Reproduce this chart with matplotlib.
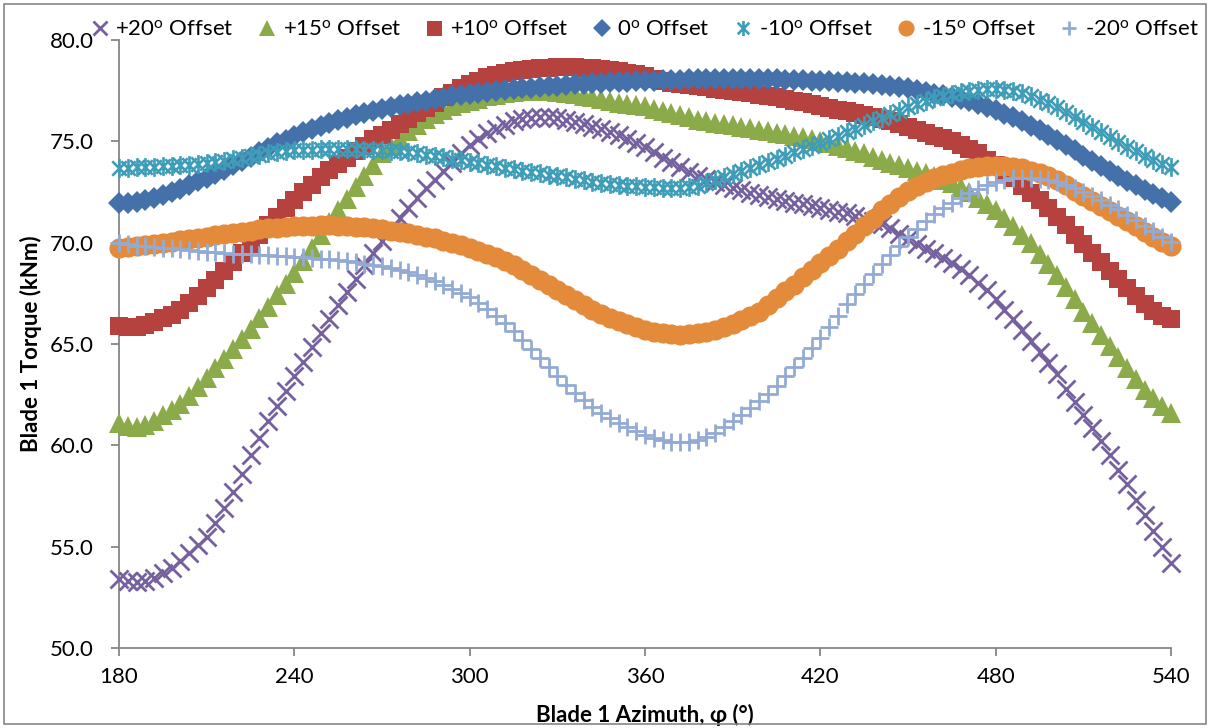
import numpy as np
import matplotlib
matplotlib.use("Agg")
import matplotlib.pyplot as plt
from matplotlib.path import Path
from matplotlib.patches import Rectangle

plt.rcParams['font.family'] = ['Lato', 'DejaVu Sans']
plt.rcParams['mathtext.default'] = 'regular'

# Blade azimuth samples (deg), one every 3 degrees over half a revolution + 180
azimuth = np.arange(180, 541, 3)

torque_p20 = [
    53.4, 53.3, 53.25, 53.3, 53.45, 53.7, 53.95, 54.3, 54.7, 55.1,
    55.5, 56.15, 56.9, 57.7, 58.6, 59.5, 60.35, 61.2, 61.95, 62.7,
    63.4, 64.1, 64.85, 65.55, 66.25, 66.9, 67.55, 68.2, 68.9, 69.5,
    70.1, 70.65, 71.2, 71.7, 72.2, 72.7, 73.1, 73.55, 73.95, 74.4,
    74.8, 75.1, 75.4, 75.6, 75.8, 76.0, 76.1, 76.15, 76.2, 76.2,
    76.15, 76.05, 75.95, 75.85, 75.7, 75.6, 75.45, 75.3, 75.1, 74.9,
    74.7, 74.45, 74.2, 74.0, 73.75, 73.5, 73.3, 73.15, 73.0, 72.85,
    72.7, 72.6, 72.45, 72.35, 72.25, 72.15, 72.05, 71.95, 71.9, 71.8,
    71.7, 71.6, 71.5, 71.45, 71.3, 71.2, 71.05, 70.9, 70.7, 70.45,
    70.2, 69.95, 69.7, 69.5, 69.25, 69.0, 68.7, 68.4, 68.0, 67.65,
    67.2, 66.7, 66.25, 65.7, 65.15, 64.6, 64.05, 63.5, 62.8, 62.15,
    61.5, 60.85, 60.2, 59.5, 58.8, 58.1, 57.3, 56.55, 55.75, 55.0,
    54.2,
]

torque_p15 = [
    61.1, 60.95, 60.9, 61.0, 61.2, 61.5, 61.75, 62.05, 62.45, 62.9,
    63.3, 63.8, 64.25, 64.75, 65.25, 65.75, 66.3, 66.85, 67.4, 67.95,
    68.5, 69.1, 69.75, 70.4, 71.0, 71.6, 72.15, 72.75, 73.3, 73.85,
    74.4, 74.75, 75.1, 75.5, 75.8, 76.1, 76.35, 76.55, 76.75, 76.9,
    77.0, 77.1, 77.25, 77.3, 77.4, 77.45, 77.5, 77.5, 77.5, 77.5,
    77.45, 77.4, 77.35, 77.25, 77.2, 77.1, 77.0, 76.9, 76.85, 76.8,
    76.75, 76.6, 76.5, 76.4, 76.3, 76.2, 76.05, 76.0, 75.9, 75.85,
    75.8, 75.7, 75.65, 75.55, 75.5, 75.4, 75.35, 75.25, 75.2, 75.1,
    75.0, 74.9, 74.75, 74.65, 74.5, 74.4, 74.25, 74.1, 73.95, 73.85,
    73.7, 73.55, 73.45, 73.3, 73.1, 72.95, 72.75, 72.5, 72.2, 71.9,
    71.6, 71.2, 70.8, 70.4, 69.96, 69.45, 68.94, 68.4, 67.8, 67.2,
    66.6, 66.05, 65.45, 64.9, 64.35, 63.8, 63.25, 62.75, 62.35, 61.95,
    61.6,
]

torque_p10 = [
    65.9, 65.85, 65.85, 65.95, 66.1, 66.3, 66.45, 66.7, 67.0, 67.35,
    67.75, 68.15, 68.6, 69.05, 69.5, 69.95, 70.4, 70.85, 71.25, 71.7,
    72.1, 72.5, 72.85, 73.25, 73.6, 73.9, 74.2, 74.5, 74.75, 75.1,
    75.3, 75.55, 75.85, 76.1, 76.4, 76.65, 76.9, 77.2, 77.4, 77.65,
    77.85, 78.0, 78.15, 78.25, 78.35, 78.45, 78.5, 78.55, 78.6, 78.6,
    78.65, 78.65, 78.65, 78.6, 78.6, 78.55, 78.5, 78.45, 78.35, 78.3,
    78.2, 78.1, 78.0, 77.9, 77.85, 77.8, 77.75, 77.7, 77.6, 77.55,
    77.5, 77.45, 77.4, 77.3, 77.25, 77.2, 77.1, 77.0, 76.95, 76.85,
    76.75, 76.65, 76.55, 76.5, 76.4, 76.3, 76.2, 76.1, 76.0, 75.85,
    75.7, 75.55, 75.4, 75.25, 75.15, 75.0, 74.8, 74.6, 74.4, 74.1,
    73.85, 73.5, 73.2, 72.8, 72.45, 72.1, 71.7, 71.25, 70.85, 70.4,
    69.95, 69.5, 69.05, 68.6, 68.2, 67.75, 67.35, 66.95, 66.65, 66.4,
    66.25,
]

torque_0 = [
    71.95, 71.95, 72.0, 72.1, 72.2, 72.35, 72.5, 72.65, 72.85, 73.05,
    73.2, 73.4, 73.6, 73.85, 74.05, 74.25, 74.45, 74.65, 74.9, 75.05,
    75.25, 75.45, 75.6, 75.75, 75.9, 76.05, 76.15, 76.3, 76.4, 76.5,
    76.6, 76.7, 76.8, 76.85, 76.95, 77.0, 77.1, 77.15, 77.25, 77.3,
    77.35, 77.4, 77.45, 77.5, 77.55, 77.6, 77.65, 77.65, 77.7, 77.75,
    77.75, 77.8, 77.85, 77.85, 77.9, 77.9, 77.95, 77.95, 77.95, 78.0,
    78.0, 78.0, 78.05, 78.05, 78.05, 78.1, 78.1, 78.1, 78.1, 78.1,
    78.1, 78.1, 78.1, 78.1, 78.1, 78.1, 78.05, 78.05, 78.05, 78.0,
    78.0, 78.0, 77.95, 77.95, 77.9, 77.9, 77.85, 77.8, 77.75, 77.7,
    77.65, 77.55, 77.45, 77.35, 77.3, 77.2, 77.1, 77.0, 76.85, 76.7,
    76.55, 76.35, 76.2, 76.0, 75.75, 75.55, 75.3, 75.05, 74.8, 74.55,
    74.3, 74.05, 73.8, 73.55, 73.3, 73.05, 72.85, 72.6, 72.4, 72.2,
    72.0,
]

torque_m10 = [
    73.7, 73.7, 73.72, 73.75, 73.75, 73.78, 73.8, 73.82, 73.85, 73.9,
    73.95, 74.0, 74.05, 74.12, 74.2, 74.28, 74.35, 74.4, 74.45, 74.5,
    74.55, 74.57, 74.58, 74.6, 74.6, 74.6, 74.6, 74.6, 74.58, 74.57,
    74.55, 74.52, 74.5, 74.45, 74.4, 74.35, 74.3, 74.22, 74.15, 74.08,
    74.0, 73.92, 73.85, 73.78, 73.7, 73.62, 73.55, 73.48, 73.42, 73.36,
    73.3, 73.22, 73.15, 73.08, 73.0, 72.95, 72.9, 72.85, 72.8, 72.78,
    72.75, 72.73, 72.72, 72.7, 72.7, 72.75, 72.82, 72.95, 73.1, 73.25,
    73.4, 73.55, 73.7, 73.85, 74.0, 74.15, 74.3, 74.45, 74.6, 74.75,
    74.9, 75.1, 75.25, 75.45, 75.6, 75.8, 76.0, 76.15, 76.35, 76.5,
    76.7, 76.85, 77.0, 77.15, 77.25, 77.35, 77.45, 77.5, 77.55, 77.6,
    77.6, 77.55, 77.5, 77.4, 77.25, 77.05, 76.9, 76.7, 76.45, 76.2,
    75.95, 75.7, 75.45, 75.2, 74.95, 74.7, 74.5, 74.3, 74.1, 73.9,
    73.75,
]

torque_m15 = [
    69.75, 69.78, 69.82, 69.87, 69.93, 69.98, 70.05, 70.12, 70.18, 70.24,
    70.3, 70.36, 70.42, 70.48, 70.54, 70.6, 70.66, 70.71, 70.74, 70.77,
    70.8, 70.82, 70.84, 70.85, 70.85, 70.84, 70.82, 70.79, 70.75, 70.7,
    70.65, 70.6, 70.53, 70.47, 70.4, 70.3, 70.22, 70.1, 69.98, 69.87,
    69.75, 69.6, 69.45, 69.3, 69.1, 68.9, 68.65, 68.4, 68.15, 67.9,
    67.65, 67.4, 67.15, 66.9, 66.7, 66.5, 66.3, 66.15, 66.0, 65.85,
    65.7, 65.6, 65.52, 65.47, 65.45, 65.47, 65.52, 65.58, 65.7, 65.85,
    66.0, 66.2, 66.4, 66.6, 66.9, 67.25, 67.6, 67.9, 68.3, 68.65,
    69.0, 69.35, 69.7, 70.1, 70.45, 70.8, 71.15, 71.6, 71.9, 72.25,
    72.55, 72.8, 73.0, 73.2, 73.35, 73.45, 73.6, 73.67, 73.72, 73.77,
    73.8, 73.78, 73.75, 73.67, 73.55, 73.42, 73.28, 73.1, 72.85, 72.55,
    72.3, 72.05, 71.8, 71.55, 71.3, 71.05, 70.8, 70.55, 70.3, 70.05,
    69.85,
]

torque_m20 = [
    70.0, 69.92, 69.86, 69.82, 69.78, 69.75, 69.72, 69.68, 69.63, 69.59,
    69.55, 69.52, 69.49, 69.46, 69.44, 69.42, 69.41, 69.39, 69.36, 69.33,
    69.3, 69.27, 69.24, 69.21, 69.17, 69.13, 69.08, 69.03, 68.97, 68.91,
    68.85, 68.75, 68.65, 68.54, 68.42, 68.28, 68.12, 67.93, 67.72, 67.52,
    67.3, 67.02, 66.72, 66.4, 66.05, 65.65, 65.22, 64.75, 64.3, 63.85,
    63.4, 63.0, 62.6, 62.22, 61.9, 61.62, 61.37, 61.12, 60.9, 60.7,
    60.5, 60.35, 60.24, 60.17, 60.15, 60.18, 60.27, 60.42, 60.62, 60.88,
    61.2, 61.5, 61.85, 62.2, 62.55, 62.95, 63.4, 63.85, 64.3, 64.8,
    65.3, 65.85, 66.4, 66.95, 67.45, 67.95, 68.45, 68.95, 69.4, 69.85,
    70.3, 70.68, 71.05, 71.4, 71.7, 71.98, 72.22, 72.45, 72.65, 72.83,
    73.0, 73.1, 73.17, 73.2, 73.2, 73.15, 73.07, 72.97, 72.83, 72.68,
    72.5, 72.3, 72.1, 71.88, 71.64, 71.38, 71.1, 70.83, 70.56, 70.3,
    70.05,
]

labels = [r'+20$^{o}$ Offset', r'+15$^{o}$ Offset', r'+10$^{o}$ Offset',
          r'0$^{o}$ Offset', r'-10$^{o}$ Offset', r'-15$^{o}$ Offset',
          r'-20$^{o}$ Offset']
series = [torque_p20, torque_p15, torque_p10, torque_0,
          torque_m10, torque_m15, torque_m20]

# Asterisk marker: two diagonals plus a vertical stroke
star_path = Path(
    [(-1, -1), (1, 1), (-1, 1), (1, -1), (0, -1.3), (0, 1.3)],
    [Path.MOVETO, Path.LINETO, Path.MOVETO, Path.LINETO, Path.MOVETO, Path.LINETO],
)

styles = [
    dict(marker='x', color='#7560A0', ms=12.5, mew=2.0),
    dict(marker='^', color='#8BAA4A', ms=14, mew=0),
    dict(marker='s', color='#B5423F', ms=13.5, mew=0),
    dict(marker='D', color='#4571AB', ms=11.5, mew=0),
    dict(marker=star_path, color='#3E9DB8', ms=13.5, mew=1.9),
    dict(marker='o', color='#E48A3B', ms=14.5, mew=0),
    dict(marker='+', color='#93ABD4', ms=13, mew=2.0),
]

fig = plt.figure(figsize=(12.10, 7.28), dpi=100)
ax = fig.add_axes([119 / 1210, 1 - 648 / 728, (1171 - 119) / 1210, (648 - 40) / 728])

handles = []
for vals, lab, st in zip(series, labels, styles):
    h, = ax.plot(azimuth, vals, linestyle='none', marker=st['marker'],
                 color=st['color'], markersize=st['ms'],
                 markeredgewidth=st['mew'], markerfacecolor=st['color'],
                 markeredgecolor=st['color'], label=lab, clip_on=False,
                 zorder=3)
    handles.append(h)

axis_grey = '#868686'
ax.set_xlim(180, 540)
ax.set_ylim(50, 80)
ax.set_xticks(np.arange(180, 541, 60))
ax.set_yticks(np.arange(50, 80.1, 5))
ax.yaxis.set_major_formatter(matplotlib.ticker.FormatStrFormatter('%.1f'))
for side in ('top', 'right'):
    ax.spines[side].set_visible(False)
for side in ('left', 'bottom'):
    ax.spines[side].set_color(axis_grey)
    ax.spines[side].set_linewidth(1.3)
ax.tick_params(axis='both', colors=axis_grey, length=6, width=1.3,
               labelcolor='black', labelsize=16)
ax.tick_params(axis='y', pad=12)
ax.tick_params(axis='x', pad=8)

ax.set_xlabel('Blade 1 Azimuth, φ (°)', fontsize=16, fontweight='bold', labelpad=12)
ax.set_ylabel('Blade 1 Torque (kNm)', fontsize=16, fontweight='bold', labelpad=6)

fig.legend(handles=handles, loc='center', bbox_to_anchor=(644 / 1210, 1 - 30 / 728),
           ncol=7, frameon=False, fontsize=16, handlelength=0.9,
           handletextpad=0.25, columnspacing=1.05, borderpad=0, markerscale=0.8)

fig.add_artist(Rectangle((4 / 1210, 4 / 728), 1 - 8 / 1210, 1 - 8 / 728,
                         transform=fig.transFigure, fill=False,
                         edgecolor=axis_grey, linewidth=1.2))

fig.savefig('out.png', dpi=100)
